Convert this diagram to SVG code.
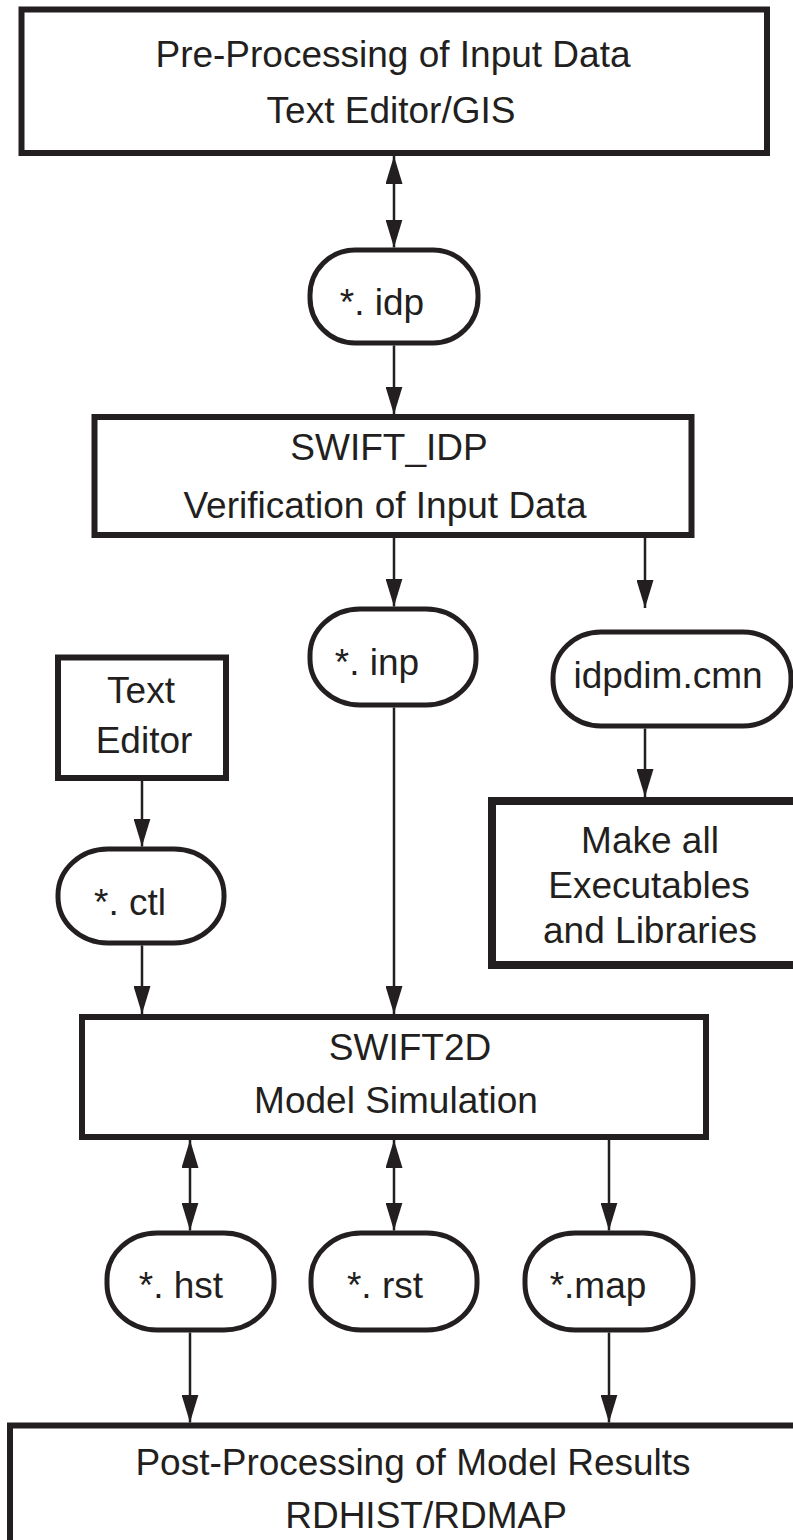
<svg xmlns="http://www.w3.org/2000/svg" width="793" height="1540" viewBox="0 0 793 1540">
<defs>
<style>
.box{fill:#fff;stroke:#231f20;stroke-width:6}
.thick{fill:#fff;stroke:#231f20;stroke-width:8}
.oval{fill:#fff;stroke:#231f20;stroke-width:5}
.lbl{font-family:"Liberation Sans",Arial,sans-serif;font-size:37px;fill:#231f20;text-anchor:middle}
.con{stroke:#231f20;stroke-width:2.5;fill:none}
.one{marker-end:url(#ah)}
.two{marker-start:url(#ah);marker-end:url(#ah)}
</style>
<marker id="ah" markerUnits="userSpaceOnUse" markerWidth="28" markerHeight="17" refX="28" refY="8.5" orient="auto-start-reverse" viewBox="0 0 28 17">
<path d="M0,0 L28,8.5 L0,17 z" fill="#231f20"/>
</marker>
</defs>
<rect width="793" height="1540" fill="#fff"/>

<g id="connectors">
<line class="con two" x1="394" y1="156" x2="394" y2="247.5"/>
<line class="con one" x1="394" y1="345.5" x2="394" y2="414.5"/>
<line class="con one" x1="394" y1="537.5" x2="394" y2="606.5"/>
<line class="con one" x1="645" y1="537.5" x2="645" y2="608"/>
<line class="con one" x1="142" y1="780.5" x2="142" y2="846.5"/>
<line class="con one" x1="645" y1="728.5" x2="645" y2="797"/>
<line class="con one" x1="142" y1="945.5" x2="142" y2="1014"/>
<line class="con one" x1="394" y1="707.5" x2="394" y2="1014"/>
<line class="con two" x1="190" y1="1140" x2="190" y2="1230.5"/>
<line class="con two" x1="394" y1="1140" x2="394" y2="1230.5"/>
<line class="con one" x1="609" y1="1140" x2="609" y2="1230.5"/>
<line class="con one" x1="190" y1="1332.5" x2="190" y2="1422.5"/>
<line class="con one" x1="609" y1="1332.5" x2="609" y2="1422.5"/>
</g>

<g id="preprocessing">
<rect class="box" x="21.5" y="9.5" width="745.5" height="143.5"/>
<text class="lbl" x="393" y="67">Pre-Processing of Input Data</text>
<text class="lbl" x="391" y="123">Text Editor/GIS</text>
</g>

<g id="idp">
<rect class="oval" x="310" y="250" width="168" height="93" rx="45" ry="45"/>
<text class="lbl" x="382" y="315">*. idp</text>
</g>

<g id="swift_idp">
<rect class="box" x="94.5" y="417" width="597" height="118"/>
<text class="lbl" x="389" y="460">SWIFT_IDP</text>
<text class="lbl" x="385" y="518">Verification of Input Data</text>
</g>

<g id="inp">
<rect class="oval" x="310" y="609" width="166" height="96" rx="50" ry="46"/>
<text class="lbl" x="377" y="675">*. inp</text>
</g>

<g id="idpdim">
<rect class="oval" x="553" y="632" width="238" height="94" rx="48" ry="46"/>
<text class="lbl" x="668" y="688">idpdim.cmn</text>
</g>

<g id="texteditor">
<rect class="box" x="58" y="657.5" width="168" height="120.5"/>
<text class="lbl" x="141" y="703">Text</text>
<text class="lbl" x="144" y="753">Editor</text>
</g>

<g id="ctl">
<rect class="oval" x="58" y="849" width="166" height="94" rx="50" ry="46"/>
<text class="lbl" x="130" y="915">*. ctl</text>
</g>

<g id="makeall">
<rect class="thick" x="492" y="801" width="320" height="164"/>
<text class="lbl" x="650" y="853">Make all</text>
<text class="lbl" x="649" y="898">Executables</text>
<text class="lbl" x="650" y="943">and Libraries</text>
</g>

<g id="swift2d">
<rect class="box" x="82" y="1017" width="624" height="120"/>
<text class="lbl" x="410" y="1060">SWIFT2D</text>
<text class="lbl" x="396" y="1113">Model Simulation</text>
</g>

<g id="hst">
<rect class="oval" x="107" y="1233" width="167" height="97" rx="50" ry="46"/>
<text class="lbl" x="181" y="1298">*. hst</text>
</g>

<g id="rst">
<rect class="oval" x="311" y="1233" width="166" height="97" rx="50" ry="46"/>
<text class="lbl" x="385" y="1298">*. rst</text>
</g>

<g id="map">
<rect class="oval" x="525" y="1233" width="168" height="97" rx="50" ry="46"/>
<text class="lbl" x="598" y="1298">*.map</text>
</g>

<g id="postprocessing">
<rect class="box" x="10" y="1425.5" width="800" height="140"/>
<text class="lbl" x="413" y="1475">Post-Processing of Model Results</text>
<text class="lbl" x="426" y="1528">RDHIST/RDMAP</text>
</g>
</svg>
